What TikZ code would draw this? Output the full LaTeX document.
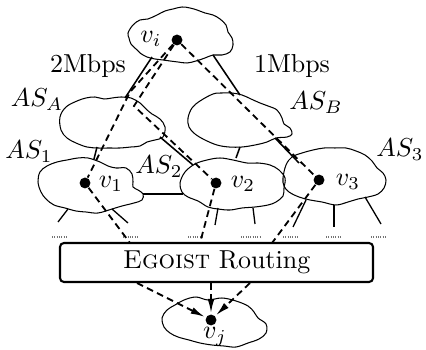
\documentclass[tikz,border=0pt]{standalone}
\usetikzlibrary{arrows.meta}
\begin{document}
\begin{tikzpicture}[x=0.385pt,y=-0.385pt,
  cloudline/.style={line width=0.4pt},
  link/.style={line width=0.6pt},
  dpath/.style={line width=0.7pt,dash pattern=on 2.6pt off 1.7pt},
  stub/.style={line width=0.5pt},
  dotline/.style={line width=0.4pt,dash pattern=on 0.4pt off 0.5pt,black!55},
  dot/.style={circle,fill=black,inner sep=0pt,minimum size=4.2pt},
  lbl/.style={inner sep=0pt},
  arr/.style={dpath,-{Latex[length=5.5pt,width=2.6pt]},shorten >=0.3pt}]
\useasboundingbox (0,0) rectangle (426,350);

% clouds
\draw[cloudline] plot[smooth cycle,tension=0.6] coordinates {(128,33) (133,25) (140,20) (148,19) (157,15) (165,11) (173,9) (182,7) (190,8) (197,10) (205,13) (213,15) (220,19) (226,25) (228,32) (232,38) (233,45) (230,52) (222,55) (213,55) (205,58) (196,61) (187,63) (178,62) (170,61) (163,60) (155,59) (147,57) (140,53) (136,49) (131,44) (129,38)};
\draw[cloudline] plot[smooth cycle,tension=0.6] coordinates {(60,117) (66,107) (77,101) (86,98) (95,97) (104,99) (112,98) (121,97) (131,98) (140,103) (146,109) (152,114) (160,119) (165,127) (163,137) (155,140) (147,142) (140,146) (131,147) (120,148) (110,148) (98,148) (87,147) (76,143) (67,138) (61,130)};
\draw[cloudline] plot[smooth cycle,tension=0.6] coordinates {(188,118) (192,108) (200,101) (213,94) (222,93) (232,93) (242,95) (251,99) (260,103) (268,106) (277,110) (282,118) (284,124) (290,128) (292,134) (287,137) (276,138) (267,142) (255,145) (242,147) (229,147) (217,145) (205,140) (195,134) (189,127)};
\draw[cloudline] plot[smooth cycle,tension=0.6] coordinates {(38,182) (40,172) (47,166) (57,162) (67,160) (78,158) (88,158) (100,162) (108,166) (116,168) (126,168) (132,174) (133,182) (133,187) (138,190) (143,194) (142,200) (134,203) (122,206) (112,209) (98,213) (86,212) (76,211) (65,208) (54,205) (46,199) (41,192)};
\draw[cloudline] plot[smooth cycle,tension=0.6] coordinates {(180,183) (185,172) (195,164) (207,160) (220,158) (233,160) (247,163) (258,163) (270,165) (279,170) (285,178) (284,188) (283,196) (276,202) (268,205) (255,207) (242,208) (230,210) (218,209) (208,207) (198,201) (188,197) (182,192)};
\draw[cloudline] plot[smooth cycle,tension=0.6] coordinates {(283,178) (286,165) (292,157) (302,153) (313,150) (324,148) (335,148) (346,148) (356,151) (365,155) (372,161) (377,168) (383,173) (386,180) (384,188) (378,194) (368,197) (358,199) (348,202) (336,205) (322,202) (310,200) (299,197) (289,192) (284,186)};
\draw[cloudline] plot[smooth cycle,tension=0.6] coordinates {(162,318) (167,310) (175,305) (184,300) (196,297) (208,300) (222,298) (236,301) (248,306) (254,312) (258,318) (266,324) (266,333) (259,339) (248,343) (236,347) (224,346) (212,345) (200,343) (189,340) (178,337) (170,333) (164,327)};

% dots
\node[dot] (vi) at (177,40) {};
\node[dot] (v1) at (85,183) {};
\node[dot] (v2) at (216,183) {};
\node[dot] (v3) at (319,180) {};
\node[dot] (vj) at (211,320) {};

% labels
\node[lbl] (lvi) at (151,39) {$v_i$};
\node[lbl] (lv1) at (111,184) {$v_1$};
\node[lbl] (lv2) at (243,184) {$v_2$};
\node[lbl] (lv3) at (348,182) {$v_3$};
\node[lbl] (lvj) at (215,337) {$v_j$};
\node[lbl] (l2m) at (88,66) {2Mbps};
\node[lbl] (l1m) at (292,66) {1Mbps};
\node[lbl] (lasa) at (37,100) {$AS_A$};
\node[lbl] (lasb) at (316,103) {$AS_B$};
\node[lbl] (las1) at (29,152) {$AS_1$};
\node[lbl] (las2) at (159,167) {$AS_2$};
\node[lbl] (las3) at (400,150) {$AS_3$};

% routing box
\node[draw,line width=0.8pt,rounded corners=1.5pt,minimum width=120.5pt,minimum height=15pt,inner sep=0pt] (box) at (216.5,262.5) {\textsc{Egoist} Routing};

% solid links
\coordinate (ia) at (152,57); \coordinate (ai) at (125,98);
\coordinate (ib) at (213,55); \coordinate (bi) at (240,95);
\coordinate (a2) at (160,137); \coordinate (s2a) at (193,165);
\coordinate (b3) at (275,138); \coordinate (s3b) at (299,163);
\coordinate (a1s) at (97,147); \coordinate (s1a) at (94,159);
\coordinate (b2) at (240,147); \coordinate (s2b) at (236,158);
\coordinate (s12) at (143,194); \coordinate (s21) at (183,194);
\draw[link] (ia) -- (ai);
\draw[link] (ib) -- (bi);
\draw[link] (a2) -- (s2a);
\draw[link] (b3) -- (s3b);
\draw[link] (a1s) -- (s1a);
\draw[link] (b2) -- (s2b);
\draw[link] (s12) -- (s21);

% stubs
\foreach \a/\b in {{(68,209)}/{(58,222)},{(112,209)}/{(128,223)},{(218,208)}/{(215,225)},{(253,208)}/{(255,224)},{(306,200)}/{(293,227)},{(334,205)}/{(334,227)},{(365,197)}/{(381,224)}}
  \draw[stub] \a -- \b;

% dotted continuation marks
\foreach \xa/\xb in {52/67,123/138,188/203,241/260,283/298,326/341,371/386}
  \draw[dotline] (\xa,237) -- (\xb,237);

% dashed paths
\coordinate (k1) at (130,92);
\coordinate (k2) at (134,106);
\draw[dpath] (vi) -- (k1) -- (v1);
\draw[dpath] (vi) -- (k2) -- (v2);
\draw[dpath] (vi) -- (v3);
\coordinate (t1) at (130,243);
\coordinate (t2) at (200,243);
\coordinate (t3) at (272,243);
\draw[dpath] (v1) -- (t1);
\draw[dpath] (v2) -- (t2);
\draw[dpath] (v3) -- (t3);
\coordinate (o1) at (137,283);
\coordinate (o2) at (211,283);
\coordinate (o3) at (250,283);
\draw[arr] (o1) -- (vj);
\draw[arr] (o2) -- (vj);
\draw[arr] (o3) -- (vj);
\end{tikzpicture}
\end{document}
